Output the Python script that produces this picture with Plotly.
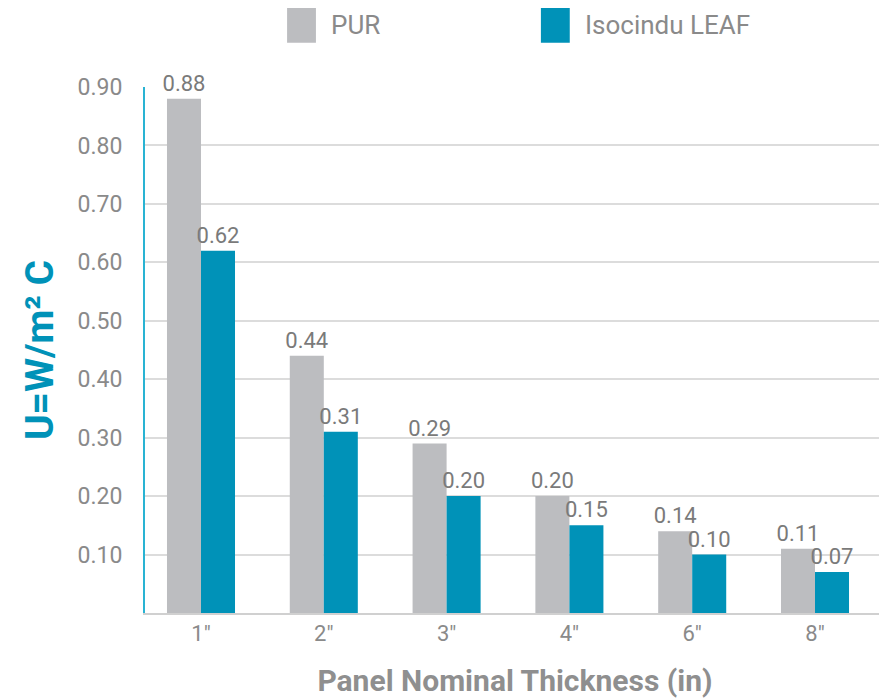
import plotly.graph_objects as go

categories = ["1″", "2″", "3″", "4″", "6″", "8″"]
pur = [0.88, 0.44, 0.29, 0.20, 0.14, 0.11]
leaf = [0.62, 0.31, 0.20, 0.15, 0.10, 0.07]
series_names = ["PUR", "Isocindu LEAF"]
colors = ["#bcbdc0", "#0092b8"]
tick_vals = [0.1, 0.2, 0.3, 0.4, 0.5, 0.6, 0.7, 0.8, 0.9]
tick_text = ["0.10", "0.20", "0.30", "0.40", "0.50", "0.60", "0.70", "0.80", "0.90"]

FONT = "Roboto, Open Sans, sans-serif"
GRAY = "#8a8a8a"

fig = go.Figure()
for name, vals, col in zip(series_names, [pur, leaf], colors):
    fig.add_trace(go.Bar(
        x=categories, y=vals, name=name, marker=dict(color=col, line=dict(width=0)),
        text=[f"{v:.2f}" for v in vals], textposition="outside", constraintext="none",
        textfont=dict(size=22, color="#7a7a7a", family=FONT),
        cliponaxis=False, showlegend=False,
    ))

# custom legend (large square swatches)
legend_items = [(0.192, 0.231, 0.248), (0.535, 0.574, 0.592)]
for (x0, x1, tx), name, col in zip(legend_items, series_names, colors):
    fig.add_shape(type="rect", xref="paper", yref="paper", x0=x0, x1=x1,
                  y0=1.084, y1=1.150, fillcolor=col, line=dict(width=0))
    fig.add_annotation(xref="paper", yref="paper", x=tx, y=1.117, text=name,
                       showarrow=False, xanchor="left", yanchor="middle",
                       font=dict(size=26, color=GRAY, family=FONT))

fig.update_layout(
    width=879, height=690,
    margin=dict(l=137, r=2, t=79, b=85),
    plot_bgcolor="white", paper_bgcolor="white",
    barmode="group", bargap=0.446, bargroupgap=0,
    font=dict(family=FONT, color=GRAY),
    xaxis=dict(
        range=[-0.456, 5.57],
        showgrid=False, showline=True, linecolor="#d0d0d0", linewidth=2,
        ticks="", tickfont=dict(size=22, color=GRAY, family=FONT),
        title=dict(text="<b>Panel Nominal Thickness (in)</b>", standoff=26,
                   font=dict(size=30, color="#8f8f8f", family=FONT)),
    ),
    yaxis=dict(
        range=[0, 0.9], tickvals=tick_vals, ticktext=tick_text,
        showgrid=True, gridcolor="#dcdcdc", gridwidth=2,
        showline=True, linecolor="#29b3d3", linewidth=2,
        ticks="", ticklabelstandoff=16,
        tickfont=dict(size=23, color=GRAY, family=FONT),
        zeroline=False,
        title=dict(text="<b>U=W/m² C</b>", standoff=12,
                   font=dict(size=39, color="#0092b8", family=FONT)),
    ),
)

fig.write_html("out.html")
